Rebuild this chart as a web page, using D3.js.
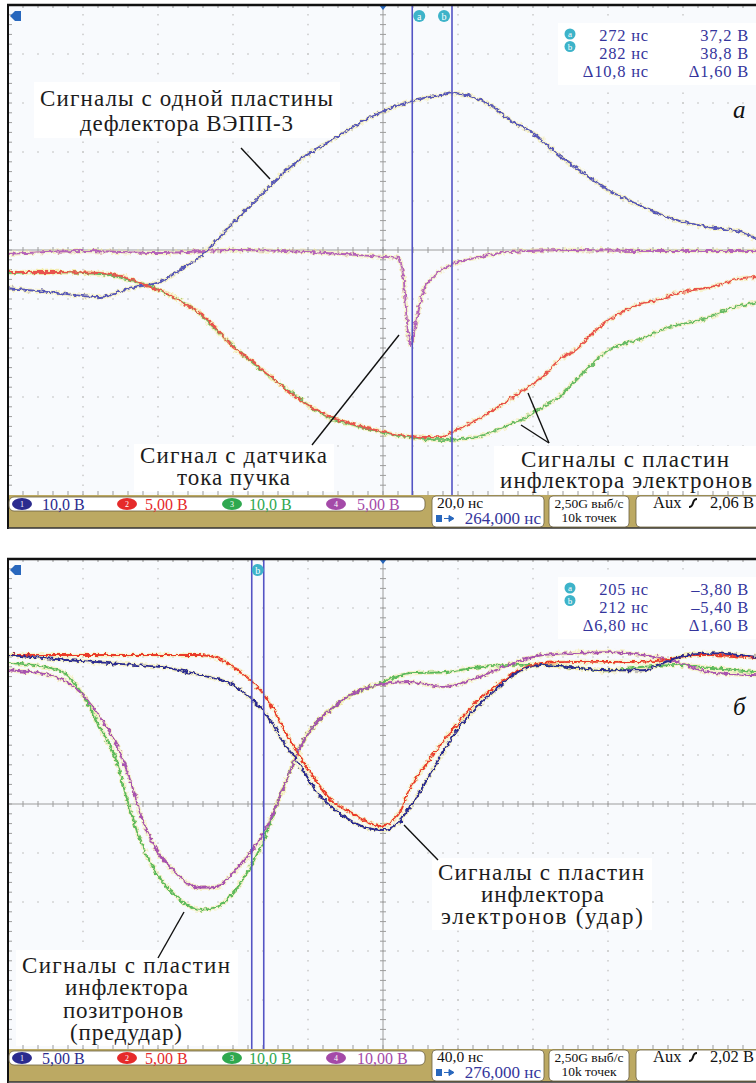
<!DOCTYPE html>
<html>
<head>
<meta charset="utf-8">
<script src="https://cdn.jsdelivr.net/npm/d3@7"></script>
<style>
  body { margin: 0; background: #fff; }
  svg { display: block; }
  text { font-family: "Liberation Serif", "DejaVu Serif", serif; }
</style>
</head>
<body>
<svg id="chart" width="756" height="1083"></svg>
<script>
// all traces: [time in divisions (0..10), level in divisions (-5..5)]

// panel a (20 ns/div)
var topBlue = [[0,-0.78],[0.56,-0.86],[1.23,-0.96],[1.67,-0.76],[2.03,-0.65],[2.29,-0.41],[2.56,-0.14],
  [2.83,0.27],[3.09,0.69],[3.36,1.10],[3.63,1.51],[3.89,1.84],[4.16,2.10],[4.43,2.35],[4.69,2.59],
  [4.96,2.80],[5.23,2.96],[5.49,3.08],[5.76,3.16],[5.96,3.20],[6.16,3.14],[6.43,2.96],[6.69,2.65],
  [7.00,2.39],[7.31,1.98],[7.67,1.57],[8.01,1.22],[8.47,0.88],[8.91,0.61],[9.35,0.47],[9.80,0.35],[10,0.20]];
var topPurple = [[0,-0.08],[1,-0.02],[2,-0.06],[3,0.0],[4,-0.04],[5.0,-0.14],[5.2,-0.16],[5.27,-0.51],
  [5.33,-1.63],[5.37,-1.94],[5.41,-1.69],[5.47,-1.27],[5.53,-0.86],[5.67,-0.55],[5.93,-0.29],
  [6.24,-0.16],[6.68,-0.04],[7.5,0.0],[8.5,-0.02],[10,-0.02]];
var topRed = [[0,-0.45],[0.56,-0.45],[1.23,-0.47],[1.67,-0.61],[1.89,-0.76],[2.12,-0.88],[2.33,-1.08],
  [2.56,-1.29],[2.79,-1.63],[3.0,-1.98],[3.23,-2.24],[3.45,-2.51],[3.67,-2.80],[3.89,-3.06],[4.12,-3.27],
  [4.33,-3.43],[4.56,-3.53],[4.79,-3.63],[5.0,-3.71],[5.35,-3.80],[5.76,-3.82],[5.93,-3.71],[6.24,-3.47],
  [6.68,-3.06],[6.91,-2.82],[7.13,-2.59],[7.35,-2.24],[7.57,-2.04],[7.8,-1.69],[8.01,-1.43],[8.24,-1.22],
  [8.47,-1.08],[8.68,-1.02],[8.91,-0.88],[9.13,-0.82],[9.35,-0.76],[9.57,-0.67],[9.8,-0.57],[10,-0.55]];
var topGreen = [[0,-0.47],[0.56,-0.45],[1.23,-0.49],[1.67,-0.63],[1.89,-0.74],[2.12,-0.90],[2.33,-1.06],
  [2.56,-1.31],[2.79,-1.65],[3.0,-1.96],[3.23,-2.26],[3.45,-2.53],[3.67,-2.78],[3.89,-3.04],[4.12,-3.29],
  [4.33,-3.45],[4.56,-3.55],[4.79,-3.65],[5.0,-3.73],[5.35,-3.82],[5.8,-3.88],[6.24,-3.82],[6.47,-3.71],
  [6.68,-3.57],[6.91,-3.41],[7.13,-3.20],[7.35,-3.0],[7.57,-2.65],[7.8,-2.31],[8.01,-2.04],[8.24,-1.90],
  [8.47,-1.80],[8.79,-1.59],[9.23,-1.43],[9.67,-1.18],[10,-1.06]];
var topCursors = [5.39, 5.92];
var topReadout = [['272 нс', '37,2 В'], ['282 нс', '38,8 В'], ['Δ10,8 нс', 'Δ1,60 В']];
var topChannels = ['10,0 В', '5,00 В', '10,0 В', '5,00 В'];
var topStatus = ['20,0 нс', '264,000 нс', '2,06 В'];

// panel б (40 ns/div)
var botBlue = [[0,3.04],[0.79,2.94],[1.67,2.84],[2.12,2.78],[2.56,2.63],[3.0,2.43],[3.23,2.16],[3.45,1.82],
  [3.67,1.27],[3.89,0.80],[4.12,0.24],[4.33,-0.08],[4.56,-0.33],[4.79,-0.49],[5.0,-0.53],[5.17,-0.43],
  [5.35,-0.08],[5.57,0.45],[5.8,1.06],[6.01,1.55],[6.24,1.96],[6.47,2.29],[6.68,2.57],[6.91,2.78],
  [7.13,2.84],[7.57,2.78],[8.01,2.73],[8.47,2.73],[8.68,2.84],[8.91,2.98],[9.35,3.08],[10,3.0]];
var botRed = [[0,3.04],[1.23,3.04],[2.56,3.04],[2.79,2.98],[3.0,2.80],[3.23,2.53],[3.45,2.16],[3.67,1.55],
  [3.89,0.98],[4.12,0.45],[4.33,0.04],[4.56,-0.16],[4.79,-0.37],[4.96,-0.45],[5.13,-0.33],[5.23,-0.16],
  [5.35,0.29],[5.57,0.80],[5.8,1.27],[6.01,1.67],[6.24,2.08],[6.47,2.37],[6.68,2.61],[6.91,2.80],
  [7.13,2.88],[7.57,2.90],[8.01,2.90],[8.47,2.90],[8.91,2.98],[9.13,3.04],[9.35,3.04],[10,2.98]];
var botGreen = [[0,2.88],[0.56,2.78],[0.79,2.63],[1.0,2.22],[1.23,1.55],[1.45,0.86],[1.59,0.08],[1.76,-0.73],
  [1.93,-1.29],[2.2,-1.82],[2.56,-2.16],[2.79,-2.10],[3.0,-1.82],[3.23,-1.29],[3.45,-0.59],[3.59,0.02],
  [3.67,0.33],[3.89,1.14],[4.12,1.67],[4.33,1.96],[4.56,2.22],[4.79,2.37],[5.0,2.49],[5.35,2.67],
  [5.8,2.69],[6.24,2.78],[6.68,2.84],[7.13,2.84],[7.57,2.78],[8.01,2.73],[8.47,2.80],[8.91,2.84],
  [9.35,2.78],[10,2.69]];
var botPurple = [[0,2.73],[0.56,2.63],[1.0,2.22],[1.23,1.76],[1.45,1.20],[1.67,0.29],[1.76,-0.18],
  [1.93,-0.80],[2.2,-1.35],[2.56,-1.71],[2.79,-1.69],[3.0,-1.41],[3.23,-1.0],[3.45,-0.47],[3.59,0.02],
  [3.67,0.33],[3.89,1.14],[4.12,1.67],[4.33,1.96],[4.56,2.22],[4.79,2.37],[4.91,2.43],[5.35,2.49],
  [5.8,2.39],[6.24,2.57],[6.68,2.84],[7.13,3.04],[7.57,3.08],[8.01,3.10],[8.47,3.04],[8.91,2.90],
  [9.35,2.69],[10,2.63]];
var botCursors = [3.25, 3.41];
var botReadout = [['205 нс', '–3,80 В'], ['212 нс', '–5,40 В'], ['Δ6,80 нс', 'Δ1,60 В']];
var botChannels = ['5,00 В', '5,00 В', '10,0 В', '10,00 В'];
var botStatus = ['40,0 нс', '276,000 нс', '2,02 В'];

var chColors = ['#2b2b8e', '#e52a2a', '#2fa84f', '#a44aa8'];

var svg = d3.select('#chart');
var defs = svg.append('defs');
var jit = defs.append('filter').attr('id', 'jitter')
  .attr('filterUnits', 'userSpaceOnUse')
  .attr('x', 0).attr('y', 0).attr('width', 756).attr('height', 1083);
jit.append('feTurbulence').attr('type', 'fractalNoise').attr('baseFrequency', '0.25')
  .attr('numOctaves', 2).attr('seed', 5).attr('result', 'noise');
jit.append('feDisplacementMap').attr('in', 'SourceGraphic').attr('in2', 'noise')
  .attr('scale', 5.5).attr('xChannelSelector', 'R').attr('yChannelSelector', 'G');

var panels = [
  {
    top: 5, bottom: 495,
    traces: [
      { data: topPurple, color: '#b463ba' },
      { data: topBlue, color: '#5656b8' },
      { data: topGreen, color: '#66bb66' },
      { data: topRed, color: '#e9524e' }
    ],
    cursors: topCursors, cursorTags: ['a', 'b'],
    readout: topReadout, letter: 'a',
    channels: topChannels, status: topStatus,
    labels: [
      { box: [34, 82, 306, 56], lines: [['Сигналы с одной пластины', 40, 333, 106], ['дефлектора ВЭПП-3', 80, 293, 131]] },
      { box: [134, 444, 200, 48], lines: [['Сигнал с датчика', 140, 327, 463], ['тока пучка', 177, 290, 485]] },
      { box: [494, 446, 262, 48], lines: [['Сигналы с пластин', 521, 729, 467], ['инфлектора электронов', 500, 752, 488]] }
    ],
    pointers: [[241, 148, 270, 179], [312, 445, 399, 335], [549, 443, 528, 393], [549, 443, 521, 425]]
  },
  {
    top: 559, bottom: 1049,
    traces: [
      { data: botGreen, color: '#5cba5c' },
      { data: botPurple, color: '#a752b0' },
      { data: botRed, color: '#ea3a2c' },
      { data: botBlue, color: '#2a2a90' }
    ],
    cursors: botCursors, cursorTags: [null, 'b'],
    readout: botReadout, letter: 'б',
    channels: botChannels, status: botStatus,
    labels: [
      { box: [432, 858, 220, 72], lines: [['Сигналы с пластин', 438, 644, 880], ['инфлектора', 481, 604, 902], ['электронов (удар)', 441, 643, 924]] },
      { box: [16, 950, 222, 96], lines: [['Сигналы с пластин', 22, 230, 973], ['инфлектора', 65, 188, 995], ['позитронов', 63, 183, 1018], ['(предудар)', 70, 182, 1040]] }
    ],
    pointers: [[438, 860, 404, 825], [158, 958, 184, 912]]
  }
];

panels.forEach(drawPanel);

function drawPanel(p) {
  var g = svg.append('g');
  var x = d3.scaleLinear().domain([0, 10]).range([8, 758]);
  var y = d3.scaleLinear().domain([-5, 5]).range([p.bottom, p.top]);

  g.append('rect').attr('x', 8).attr('y', p.top).attr('width', 750).attr('height', p.bottom - p.top)
    .attr('fill', '#f8fafd');

  // dotted graticule
  var dots = [];
  d3.range(1, 10).forEach(function(i) {
    if (i === 5) return;
    d3.range(0, 51).forEach(function(j) { dots.push([i, -5 + j * 0.2]); });
  });
  d3.range(-4, 5).forEach(function(k) {
    if (k === 0) return;
    d3.range(0, 51).forEach(function(j) { dots.push([j * 0.2, k]); });
  });
  g.append('g').selectAll('rect').data(dots).join('rect')
    .attr('x', function(d) { return x(d[0]) - 0.75; })
    .attr('y', function(d) { return y(d[1]) - 0.75; })
    .attr('width', 1.5).attr('height', 1.5)
    .attr('fill', '#c9c9c9');

  // white boxes behind text
  p.labels.forEach(function(l) {
    g.append('rect').attr('x', l.box[0]).attr('y', l.box[1]).attr('width', l.box[2]).attr('height', l.box[3])
      .attr('fill', '#ffffff');
  });
  g.append('rect').attr('x', 558).attr('y', p.top + 18).attr('width', 198).attr('height', 62).attr('fill', '#ffffff');

  // center cross with minor ticks
  var axis = g.append('g').attr('stroke', '#9c9c9c').attr('stroke-width', 1);
  axis.append('line').attr('x1', x(0)).attr('x2', x(10)).attr('y1', y(0)).attr('y2', y(0));
  axis.append('line').attr('x1', x(5)).attr('x2', x(5)).attr('y1', y(-5)).attr('y2', y(5));
  var hTicks = d3.range(1, 50);
  var vTicks = d3.range(1, 50);
  axis.selectAll('.ht').data(hTicks).join('line').attr('class', 'ht')
    .attr('x1', function(d) { return x(d * 0.2); }).attr('x2', function(d) { return x(d * 0.2); })
    .attr('y1', y(0) - 3).attr('y2', y(0) + 3);
  axis.selectAll('.vt').data(vTicks).join('line').attr('class', 'vt')
    .attr('y1', function(d) { return y(-5 + d * 0.2); }).attr('y2', function(d) { return y(-5 + d * 0.2); })
    .attr('x1', x(5) - 3).attr('x2', x(5) + 3);
  // edge ticks
  axis.selectAll('.lt').data(vTicks).join('line').attr('class', 'lt')
    .attr('y1', function(d) { return y(-5 + d * 0.2); }).attr('y2', function(d) { return y(-5 + d * 0.2); })
    .attr('x1', x(0)).attr('x2', x(0) + 4);
  axis.selectAll('.bt').data(hTicks).join('line').attr('class', 'bt')
    .attr('x1', function(d) { return x(d * 0.2); }).attr('x2', function(d) { return x(d * 0.2); })
    .attr('y1', y(-5)).attr('y2', y(-5) - 4);
  axis.selectAll('.tt').data(hTicks).join('line').attr('class', 'tt')
    .attr('x1', function(d) { return x(d * 0.2); }).attr('x2', function(d) { return x(d * 0.2); })
    .attr('y1', y(5)).attr('y2', y(5) + 3);

  // traces
  var line = d3.line().x(function(d) { return x(d[0]); }).y(function(d) { return y(d[1]); })
    .curve(d3.curveMonotoneX);
  var tr = g.append('g').attr('filter', 'url(#jitter)');
  p.traces.forEach(function(t) {
    tr.append('path').attr('d', line(t.data)).attr('fill', 'none')
      .attr('stroke', '#f3ea9a').attr('stroke-opacity', 0.5).attr('stroke-width', 4.5);
  });
  p.traces.forEach(function(t) {
    tr.append('path').attr('d', line(t.data)).attr('fill', 'none')
      .attr('stroke', t.color).attr('stroke-width', 1.9).attr('stroke-linejoin', 'round');
  });

  // cursors
  g.selectAll('.cur').data(p.cursors).join('line').attr('class', 'cur')
    .attr('x1', function(d) { return x(d); }).attr('x2', function(d) { return x(d); })
    .attr('y1', y(5)).attr('y2', y(-5))
    .attr('stroke', '#5454c4').attr('stroke-width', 1.6);
  p.cursors.forEach(function(c, i) {
    var tag = p.cursorTags[i];
    if (!tag) return;
    var cx = i === 0 ? x(c) + 7 : x(c) - 8;
    if (p.cursorTags[0] === null) cx = (x(p.cursors[0]) + x(p.cursors[1])) / 2;
    g.append('circle').attr('cx', cx).attr('cy', p.top + 11).attr('r', 6).attr('fill', '#3db3c9');
    g.append('text').attr('x', cx).attr('y', p.top + 14.5).attr('text-anchor', 'middle')
      .attr('font-size', 10).attr('fill', '#fff').text(tag);
  });

  // trigger markers
  g.append('path').attr('d', 'M10,' + (p.top + 11) + 'l5,-5h6v10h-6z').attr('fill', '#2867bd');
  g.append('path').attr('d', 'M' + (x(5) - 4) + ',' + p.top + 'h8l-4,5z').attr('fill', '#2867bd');

  // cursor readout
  var ro = g.append('g').attr('font-size', 16.5).attr('letter-spacing', 0.8)
    .attr('fill', '#35359c').attr('text-anchor', 'end');
  p.readout.forEach(function(r, i) {
    var by = p.top + 36 + i * 18;
    ro.append('text').attr('x', 649).attr('y', by).text(r[0]);
    ro.append('text').attr('x', 749).attr('y', by).text(r[1]);
  });
  ['a', 'b'].forEach(function(tag, i) {
    g.append('circle').attr('cx', 570).attr('cy', p.top + 29 + i * 12.5).attr('r', 5.5).attr('fill', '#3db3c9');
    g.append('text').attr('x', 570).attr('y', p.top + 32 + i * 12.5).attr('text-anchor', 'middle')
      .attr('font-size', 9).attr('fill', '#fff').text(tag);
  });

  g.append('text').attr('x', 733).attr('y', p.top + (p.letter === 'a' ? 113 : 156))
    .attr('font-size', 25).attr('font-style', 'italic').attr('fill', '#111').text(p.letter);

  // annotations
  p.labels.forEach(function(l) {
    l.lines.forEach(function(t) {
      g.append('text').attr('x', t[1]).attr('y', t[3])
        .attr('textLength', t[2] - t[1]).attr('lengthAdjust', 'spacing')
        .attr('font-size', 23).attr('fill', '#1c1c1c').text(t[0]);
    });
  });
  g.selectAll('.ptr').data(p.pointers).join('line').attr('class', 'ptr')
    .attr('x1', function(d) { return d[0]; }).attr('y1', function(d) { return d[1]; })
    .attr('x2', function(d) { return d[2]; }).attr('y2', function(d) { return d[3]; })
    .attr('stroke', '#111').attr('stroke-width', 1.4);

  // frame
  g.append('line').attr('x1', 7).attr('x2', 756).attr('y1', p.top).attr('y2', p.top)
    .attr('stroke', '#111').attr('stroke-width', 2.5);
  g.append('line').attr('x1', 8).attr('x2', 8).attr('y1', p.top).attr('y2', p.bottom + 34)
    .attr('stroke', '#111').attr('stroke-width', 2);

  drawStatus(g, p.bottom, p.channels, p.status);
}

function drawStatus(g, y0, channels, status) {
  g.append('rect').attr('x', 9).attr('y', y0).attr('width', 747).attr('height', 33).attr('fill', '#bca963');
  g.append('line').attr('x1', 8).attr('x2', 756).attr('y1', y0 + 33).attr('y2', y0 + 33)
    .attr('stroke', '#333').attr('stroke-width', 1.5);
  g.append('rect').attr('x', 9).attr('y', y0 + 2).attr('width', 416).attr('height', 14).attr('rx', 5)
    .attr('fill', '#fff').attr('stroke', '#6b6040').attr('stroke-width', 0.8);

  var pillX = [22, 127, 232, 336];
  var textX = [42, 145, 249, 357];
  channels.forEach(function(c, i) {
    g.append('ellipse').attr('cx', pillX[i]).attr('cy', y0 + 9).attr('rx', 10).attr('ry', 6).attr('fill', chColors[i]);
    g.append('text').attr('x', pillX[i]).attr('y', y0 + 12).attr('text-anchor', 'middle')
      .attr('font-size', 8).attr('fill', '#fff').text(i + 1);
    g.append('text').attr('x', textX[i]).attr('y', y0 + 14.5).attr('font-size', 16)
      .attr('fill', chColors[i]).text(c);
  });

  g.append('rect').attr('x', 432).attr('y', y0 + 1).attr('width', 112).attr('height', 31).attr('rx', 4)
    .attr('fill', '#fff').attr('stroke', '#6b6040').attr('stroke-width', 0.8);
  g.append('text').attr('x', 437).attr('y', y0 + 13).attr('font-size', 15.5).attr('fill', '#111').text(status[0]);
  g.append('rect').attr('x', 436).attr('y', y0 + 20).attr('width', 6).attr('height', 7).attr('fill', '#2867bd');
  g.append('path').attr('d', 'M444,' + (y0 + 23.5) + 'h5m0,-3l5,3l-5,3z').attr('fill', '#2867bd')
    .attr('stroke', '#2867bd').attr('stroke-width', 1);
  g.append('text').attr('x', 541).attr('y', y0 + 28.5).attr('text-anchor', 'end')
    .attr('font-size', 17).attr('fill', '#35359c').text(status[1]);

  g.append('rect').attr('x', 549).attr('y', y0 + 1).attr('width', 80).attr('height', 31).attr('rx', 4)
    .attr('fill', '#fff').attr('stroke', '#6b6040').attr('stroke-width', 0.8);
  g.append('text').attr('x', 589).attr('y', y0 + 13).attr('text-anchor', 'middle')
    .attr('font-size', 13.5).attr('fill', '#111').text('2,50G выб/с');
  g.append('text').attr('x', 589).attr('y', y0 + 27).attr('text-anchor', 'middle')
    .attr('font-size', 13.5).attr('fill', '#111').text('10k точек');

  g.append('rect').attr('x', 636).attr('y', y0 + 1).attr('width', 130).attr('height', 31).attr('rx', 4)
    .attr('fill', '#fff').attr('stroke', '#6b6040').attr('stroke-width', 0.8);
  g.append('text').attr('x', 653).attr('y', y0 + 13).attr('font-size', 16.5).attr('fill', '#111').text('Aux');
  g.append('path').attr('d', 'M689,' + (y0 + 12) + 'q3,0 4,-4t4,-4').attr('fill', 'none')
    .attr('stroke', '#111').attr('stroke-width', 2);
  g.append('text').attr('x', 754).attr('y', y0 + 13).attr('text-anchor', 'end')
    .attr('font-size', 16.5).attr('fill', '#111').text(status[2]);
}
</script>
</body>
</html>
